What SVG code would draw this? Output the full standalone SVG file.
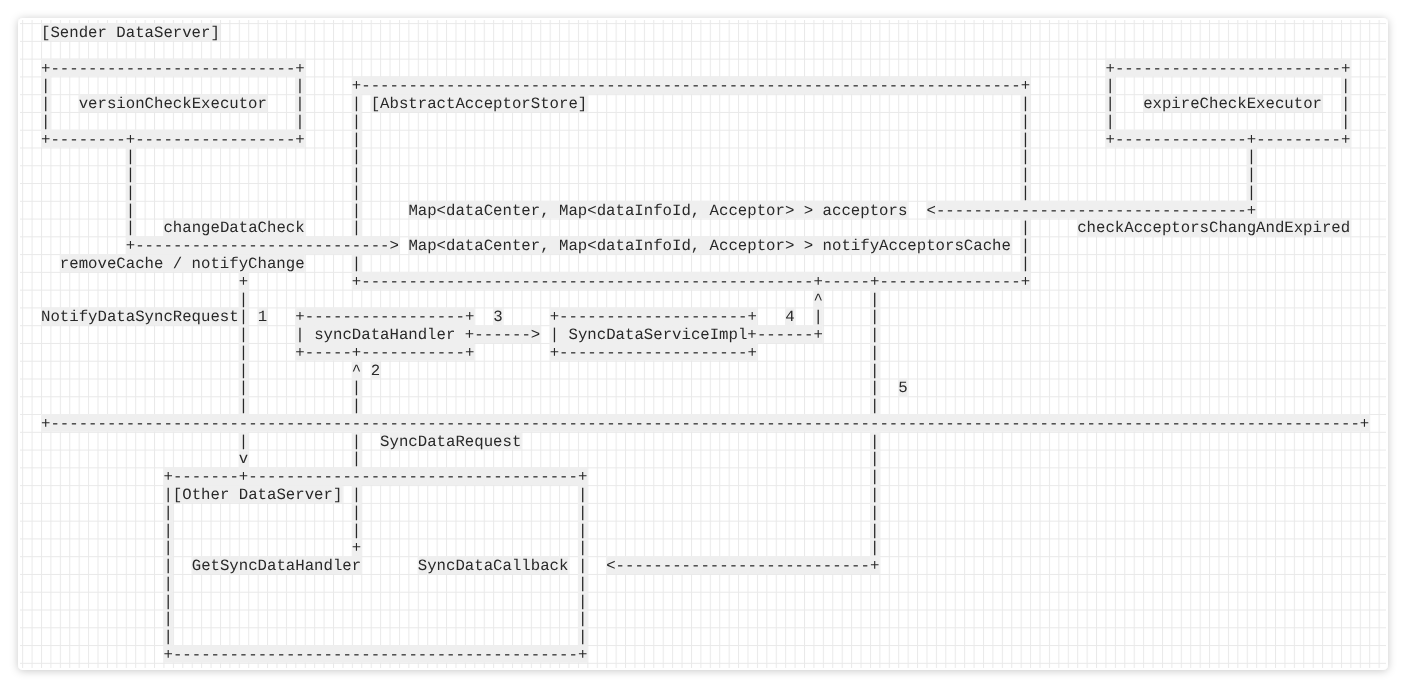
<svg xmlns="http://www.w3.org/2000/svg" width="1406" height="689" viewBox="0 0 1406 689" xml:space="preserve">
<style>
.t{font-family:"Liberation Mono","DejaVu Sans Mono",monospace;font-size:15.7px;fill:#262626;text-rendering:geometricPrecision;}
.hl{fill:#efefef;}
.txt{opacity:0.99;}
</style>
<defs>
<filter id="sh" x="-5%" y="-5%" width="110%" height="110%">
<feDropShadow dx="0" dy="1" stdDeviation="4" flood-color="#000" flood-opacity="0.22"/>
</filter>
<pattern id="grid" patternUnits="userSpaceOnUse" x="41" y="23.1" width="9.42" height="17.77">
<path d="M0.5 0V17.77M0 0.5H9.42" stroke="#e9e9e9" stroke-width="1" fill="none"/>
</pattern>
<clipPath id="cc"><rect x="20" y="20" width="1366" height="648"/></clipPath>
</defs>
<rect width="1406" height="689" fill="#fff"/>
<rect x="18" y="18" width="1370" height="652" rx="5" fill="#fff" filter="url(#sh)"/>
<rect x="20" y="20" width="1366" height="648" fill="url(#grid)"/>

<g id="highlights" clip-path="url(#cc)">
<rect class="hl" x="41" y="23.1" width="178.98" height="17.77"/>
<rect class="hl" x="41" y="58.64" width="263.76" height="17.77"/>
<rect class="hl" x="41" y="76.41" width="9.42" height="53.31"/>
<rect class="hl" x="295.34" y="76.41" width="9.42" height="53.31"/>
<rect class="hl" x="78.68" y="94.18" width="188.4" height="17.77"/>
<rect class="hl" x="41" y="129.72" width="263.76" height="17.77"/>
<rect class="hl" x="125.78" y="147.49" width="9.42" height="88.85"/>
<rect class="hl" x="125.78" y="236.34" width="273.18" height="17.77"/>
<rect class="hl" x="163.46" y="218.57" width="141.3" height="17.77"/>
<rect class="hl" x="351.86" y="76.41" width="678.24" height="17.77"/>
<rect class="hl" x="351.86" y="94.18" width="9.42" height="142.16"/>
<rect class="hl" x="351.86" y="254.11" width="9.42" height="17.77"/>
<rect class="hl" x="1020.68" y="94.18" width="9.42" height="177.7"/>
<rect class="hl" x="351.86" y="271.88" width="678.24" height="17.77"/>
<rect class="hl" x="370.7" y="94.18" width="216.66" height="17.77"/>
<rect class="hl" x="408.38" y="200.8" width="499.26" height="17.77"/>
<rect class="hl" x="408.38" y="236.34" width="602.88" height="17.77"/>
<rect class="hl" x="926.48" y="200.8" width="329.7" height="17.77"/>
<rect class="hl" x="1246.76" y="147.49" width="9.42" height="53.31"/>
<rect class="hl" x="1105.46" y="58.64" width="244.92" height="17.77"/>
<rect class="hl" x="1105.46" y="76.41" width="9.42" height="53.31"/>
<rect class="hl" x="1340.96" y="76.41" width="9.42" height="53.31"/>
<rect class="hl" x="1143.14" y="94.18" width="178.98" height="17.77"/>
<rect class="hl" x="1105.46" y="129.72" width="244.92" height="17.77"/>
<rect class="hl" x="1077.2" y="218.57" width="273.18" height="17.77"/>
<rect class="hl" x="59.84" y="254.11" width="244.92" height="17.77"/>
<rect class="hl" x="238.82" y="271.88" width="9.42" height="142.16"/>
<rect class="hl" x="238.82" y="431.81" width="9.42" height="35.54"/>
<rect class="hl" x="41" y="307.42" width="207.24" height="17.77"/>
<rect class="hl" x="257.66" y="307.42" width="9.42" height="17.77"/>
<rect class="hl" x="493.16" y="307.42" width="9.42" height="17.77"/>
<rect class="hl" x="785.18" y="307.42" width="9.42" height="17.77"/>
<rect class="hl" x="370.7" y="360.73" width="9.42" height="17.77"/>
<rect class="hl" x="898.22" y="378.5" width="9.42" height="17.77"/>
<rect class="hl" x="295.34" y="307.42" width="178.98" height="17.77"/>
<rect class="hl" x="295.34" y="325.19" width="244.92" height="17.77"/>
<rect class="hl" x="295.34" y="342.96" width="178.98" height="17.77"/>
<rect class="hl" x="549.68" y="307.42" width="207.24" height="17.77"/>
<rect class="hl" x="549.68" y="325.19" width="273.18" height="17.77"/>
<rect class="hl" x="549.68" y="342.96" width="207.24" height="17.77"/>
<rect class="hl" x="813.44" y="289.65" width="9.42" height="35.54"/>
<rect class="hl" x="351.86" y="360.73" width="9.42" height="53.31"/>
<rect class="hl" x="351.86" y="431.81" width="9.42" height="124.39"/>
<rect class="hl" x="869.96" y="289.65" width="9.42" height="124.39"/>
<rect class="hl" x="869.96" y="431.81" width="9.42" height="142.16"/>
<rect class="hl" x="41" y="414.04" width="1328.22" height="17.77"/>
<rect class="hl" x="380.12" y="431.81" width="141.3" height="17.77"/>
<rect class="hl" x="163.46" y="467.35" width="423.9" height="17.77"/>
<rect class="hl" x="163.46" y="485.12" width="9.42" height="159.93"/>
<rect class="hl" x="577.94" y="485.12" width="9.42" height="159.93"/>
<rect class="hl" x="163.46" y="645.05" width="423.9" height="17.77"/>
<rect class="hl" x="163.46" y="485.12" width="178.98" height="17.77"/>
<rect class="hl" x="191.72" y="556.2" width="169.56" height="17.77"/>
<rect class="hl" x="417.8" y="556.2" width="150.72" height="17.77"/>
<rect class="hl" x="606.2" y="556.2" width="273.18" height="17.77"/>
</g>

<g class="txt">
<g id="sender-dataserver">
<text class="t" x="41" y="37">[Sender DataServer]</text>
</g>

<g id="versionCheckExecutor">
<text class="t" x="41" y="72.54" textLength="263.76" lengthAdjust="spacing">+--------------------------+</text>
<text class="t"><tspan x="41" y="90.31">|</tspan><tspan x="295.34" y="90.31">|</tspan><tspan x="41" y="108.08">|</tspan><tspan x="78.68" y="108.08">versionCheckExecutor</tspan><tspan x="295.34" y="108.08">|</tspan><tspan x="41" y="125.85">|</tspan><tspan x="295.34" y="125.85">|</tspan></text>
<text class="t" x="41" y="143.62" textLength="263.76" lengthAdjust="spacing">+--------+-----------------+</text>
</g>

<g id="AbstractAcceptorStore">
<text class="t" x="351.86" y="90.31" textLength="678.24" lengthAdjust="spacing">+----------------------------------------------------------------------+</text>
<text class="t"><tspan x="351.86" y="108.08">| [AbstractAcceptorStore]</tspan><tspan x="1020.68" y="108.08">|</tspan><tspan x="351.86" y="125.85">|</tspan><tspan x="1020.68" y="125.85">|</tspan><tspan x="351.86" y="143.62">|</tspan><tspan x="1020.68" y="143.62">|</tspan><tspan x="351.86" y="161.39">|</tspan><tspan x="1020.68" y="161.39">|</tspan><tspan x="351.86" y="179.16">|</tspan><tspan x="1020.68" y="179.16">|</tspan><tspan x="351.86" y="196.93">|</tspan><tspan x="1020.68" y="196.93">|</tspan><tspan x="351.86" y="214.7">|</tspan><tspan x="351.86" y="232.47">|</tspan><tspan x="1020.68" y="232.47">|</tspan><tspan x="351.86" y="268.01">|</tspan><tspan x="1020.68" y="268.01">|</tspan></text>
<text class="t" x="408.38" y="214.7">Map&lt;dataCenter, Map&lt;dataInfoId, Acceptor&gt; &gt; acceptors</text>
<text class="t" x="408.38" y="250.24">Map&lt;dataCenter, Map&lt;dataInfoId, Acceptor&gt; &gt; notifyAcceptorsCache</text>
<text class="t" x="1020.68" y="250.24">|</text>
<text class="t" x="351.86" y="285.78" textLength="678.24" lengthAdjust="spacing">+------------------------------------------------+-----+---------------+</text>
</g>

<g id="expireCheckExecutor">
<text class="t" x="1105.46" y="72.54" textLength="244.92" lengthAdjust="spacing">+------------------------+</text>
<text class="t"><tspan x="1105.46" y="90.31">|</tspan><tspan x="1340.96" y="90.31">|</tspan><tspan x="1105.46" y="108.08">|</tspan><tspan x="1143.14" y="108.08">expireCheckExecutor</tspan><tspan x="1340.96" y="108.08">|</tspan><tspan x="1105.46" y="125.85">|</tspan><tspan x="1340.96" y="125.85">|</tspan></text>
<text class="t" x="1105.46" y="143.62" textLength="244.92" lengthAdjust="spacing">+--------------+---------+</text>
</g>

<g id="syncDataHandler">
<text class="t" x="295.34" y="321.32" textLength="178.98" lengthAdjust="spacing">+-----------------+</text>
<text class="t" x="295.34" y="339.09">| syncDataHandler +</text>
<text class="t" x="295.34" y="356.86" textLength="178.98" lengthAdjust="spacing">+-----+-----------+</text>
</g>

<g id="SyncDataServiceImpl">
<text class="t" x="549.68" y="321.32" textLength="207.24" lengthAdjust="spacing">+--------------------+</text>
<text class="t" x="549.68" y="339.09">| SyncDataServiceImpl+</text>
<text class="t" x="549.68" y="356.86" textLength="207.24" lengthAdjust="spacing">+--------------------+</text>
</g>

<g id="network-boundary">
<text class="t" x="41" y="427.94" textLength="1328.22" lengthAdjust="spacing">+-------------------------------------------------------------------------------------------------------------------------------------------+</text>
</g>

<g id="OtherDataServer">
<text class="t" x="163.46" y="481.25" textLength="423.9" lengthAdjust="spacing">+-------+-----------------------------------+</text>
<text class="t"><tspan x="163.46" y="499.02">|[Other DataServer]</tspan><tspan x="577.94" y="499.02">|</tspan><tspan x="163.46" y="516.79">|</tspan><tspan x="577.94" y="516.79">|</tspan><tspan x="163.46" y="534.56">|</tspan><tspan x="577.94" y="534.56">|</tspan><tspan x="163.46" y="552.33">|</tspan><tspan x="577.94" y="552.33">|</tspan><tspan x="163.46" y="570.1">|</tspan><tspan x="191.72" y="570.1">GetSyncDataHandler</tspan><tspan x="417.8" y="570.1">SyncDataCallback</tspan><tspan x="577.94" y="570.1">|</tspan><tspan x="163.46" y="587.87">|</tspan><tspan x="577.94" y="587.87">|</tspan><tspan x="163.46" y="605.64">|</tspan><tspan x="577.94" y="605.64">|</tspan><tspan x="163.46" y="623.41">|</tspan><tspan x="577.94" y="623.41">|</tspan><tspan x="163.46" y="641.18">|</tspan><tspan x="577.94" y="641.18">|</tspan></text>
<text class="t" x="163.46" y="658.95" textLength="423.9" lengthAdjust="spacing">+-------------------------------------------+</text>
</g>

<g id="connectors">
<text class="t"><tspan x="125.78" y="161.39">|</tspan><tspan x="125.78" y="179.16">|</tspan><tspan x="125.78" y="196.93">|</tspan><tspan x="125.78" y="214.7">|</tspan><tspan x="125.78" y="232.47">|</tspan></text>
<text class="t" x="125.78" y="250.24" textLength="273.18" lengthAdjust="spacing">+---------------------------&gt;</text>
<text class="t" x="163.46" y="232.47">changeDataCheck</text>
<text class="t"><tspan x="1246.76" y="161.39">|</tspan><tspan x="1246.76" y="179.16">|</tspan><tspan x="1246.76" y="196.93">|</tspan></text>
<text class="t" x="926.48" y="214.7" textLength="329.7" lengthAdjust="spacing">&lt;---------------------------------+</text>
<text class="t" x="1077.2" y="232.47">checkAcceptorsChangAndExpired</text>
<text class="t" x="59.84" y="268.01">removeCache / notifyChange</text>
<text class="t"><tspan x="238.82" y="285.78">+</tspan><tspan x="238.82" y="303.55">|</tspan><tspan x="41" y="321.32">NotifyDataSyncRequest|</tspan><tspan x="238.82" y="339.09">|</tspan><tspan x="238.82" y="356.86">|</tspan><tspan x="238.82" y="374.63">|</tspan><tspan x="238.82" y="392.4">|</tspan><tspan x="238.82" y="410.17">|</tspan><tspan x="238.82" y="445.71">|</tspan><tspan x="238.82" y="463.48">v</tspan></text>
<text class="t" x="257.66" y="321.32">1</text>
<text class="t" x="493.16" y="321.32">3</text>
<text class="t" x="474.32" y="339.09">------&gt;</text>
<text class="t" x="785.18" y="321.32">4</text>
<text class="t" x="756.92" y="339.09">------+</text>
<text class="t"><tspan x="813.44" y="303.55">^</tspan><tspan x="813.44" y="321.32">|</tspan></text>
<text class="t"><tspan x="351.86" y="374.63">^</tspan><tspan x="370.7" y="374.63">2</tspan><tspan x="351.86" y="392.4">|</tspan><tspan x="351.86" y="410.17">|</tspan><tspan x="351.86" y="445.71">|</tspan><tspan x="351.86" y="463.48">|</tspan><tspan x="351.86" y="499.02">|</tspan><tspan x="351.86" y="516.79">|</tspan><tspan x="351.86" y="534.56">|</tspan><tspan x="351.86" y="552.33">+</tspan></text>
<text class="t" x="380.12" y="445.71">SyncDataRequest</text>
<text class="t"><tspan x="869.96" y="303.55">|</tspan><tspan x="869.96" y="321.32">|</tspan><tspan x="869.96" y="339.09">|</tspan><tspan x="869.96" y="356.86">|</tspan><tspan x="869.96" y="374.63">|</tspan><tspan x="869.96" y="392.4">|</tspan><tspan x="869.96" y="410.17">|</tspan><tspan x="869.96" y="445.71">|</tspan><tspan x="869.96" y="463.48">|</tspan><tspan x="869.96" y="481.25">|</tspan><tspan x="869.96" y="499.02">|</tspan><tspan x="869.96" y="516.79">|</tspan><tspan x="869.96" y="534.56">|</tspan><tspan x="869.96" y="552.33">|</tspan></text>
<text class="t" x="898.22" y="392.4">5</text>
<text class="t" x="606.2" y="570.1" textLength="273.18" lengthAdjust="spacing">&lt;---------------------------+</text>
</g>
</g>
</svg>
